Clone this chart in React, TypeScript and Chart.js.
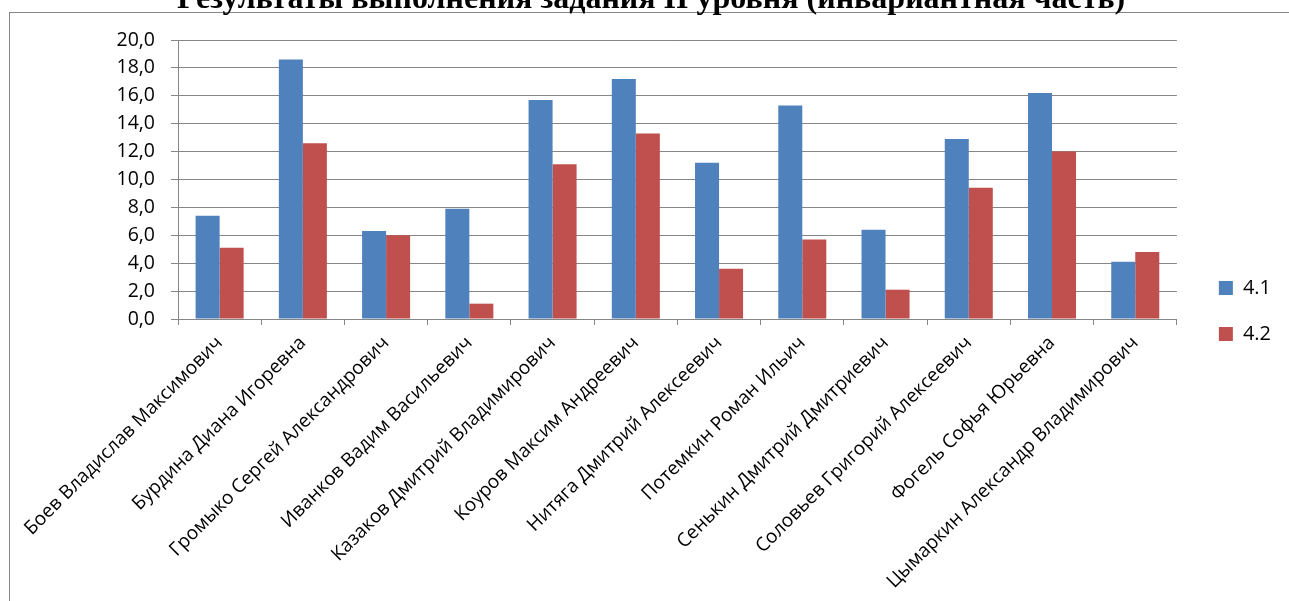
import React, { useEffect, useRef } from "react";
import { Chart, registerables } from "chart.js";

Chart.register(...registerables);

const titleText = "Результаты выполнения задания II уровня (инвариантная часть)";

const categories = [
  "Боев Владислав Максимович",
  "Бурдина Диана Игоревна",
  "Громыко Сергей Александрович",
  "Иванков Вадим Васильевич",
  "Казаков Дмитрий Владимирович",
  "Коуров Максим Андреевич",
  "Нитяга Дмитрий Алексеевич",
  "Потемкин Роман Ильич",
  "Сенькин Дмитрий Дмитриевич",
  "Соловьев Григорий Алексеевич",
  "Фогель Софья Юрьевна",
  "Цымаркин Александр Владимирович",
];

const seriesNames = ["4.1", "4.2"];
const series41 = [7.4, 18.6, 6.3, 7.9, 15.7, 17.2, 11.2, 15.3, 6.4, 12.9, 16.2, 4.1];
const series42 = [5.1, 12.6, 6.0, 1.1, 11.1, 13.3, 3.6, 5.7, 2.1, 9.4, 12.0, 4.8];

const yMin = 0;
const yMax = 20;
const yStep = 2;

const GRID = "#868686";
const FONT = "'Open Sans', sans-serif";

export default function App() {
  const ref = useRef<HTMLCanvasElement | null>(null);

  useEffect(() => {
    if (!ref.current) return;
    const chart = new Chart(ref.current, {
      type: "bar",
      data: {
        labels: categories,
        datasets: [
          {
            label: seriesNames[0],
            data: series41,
            backgroundColor: "#4F81BD",
            categoryPercentage: 0.577,
            barPercentage: 1,
          },
          {
            label: seriesNames[1],
            data: series42,
            backgroundColor: "#C0504D",
            categoryPercentage: 0.577,
            barPercentage: 1,
          },
        ],
      },
      options: {
        animation: false,
        responsive: true,
        maintainAspectRatio: false,
        layout: { padding: { left: 0, right: 0, top: 0, bottom: 0 } },
        plugins: {
          title: {
            display: true,
            text: titleText,
            color: "#000",
            font: { family: "'Liberation Serif', serif", size: 32, weight: "bold" },
            padding: { top: 11, bottom: 20.6 },
          },
          legend: {
            display: true,
            position: "right",
            labels: {
              color: "#000",
              font: { family: FONT, size: 20 },
              boxWidth: 14,
              boxHeight: 14,
              padding: 26,
            },
          },
          tooltip: { enabled: false },
        },
        scales: {
          x: {
            offset: true,
            grid: {
              display: true,
              drawOnChartArea: false,
              drawTicks: true,
              tickLength: 6,
              color: GRID,
              offset: true,
            },
            border: { display: true, color: GRID },
            ticks: {
              color: "#000",
              font: { family: FONT, size: 19 },
              minRotation: 45,
              maxRotation: 45,
              autoSkip: false,
              padding: 7,
            },
            afterFit: (s: any) => {
              s.height = 333;
            },
          },
          y: {
            min: yMin,
            max: yMax,
            ticks: {
              stepSize: yStep,
              color: "#000",
              font: { family: FONT, size: 19.5 },
              padding: 16,
              callback: (v: any) => Number(v).toFixed(1).replace(".", ","),
            },
            grid: { color: GRID, tickLength: 7, drawTicks: true },
            border: { display: true, color: GRID },
            afterFit: (s: any) => {
              s.width = 178;
            },
          },
          y2: {
            type: "linear",
            position: "right",
            display: true,
            weight: 0,
            grid: { display: false, drawOnChartArea: false },
            border: { display: false },
            ticks: { display: false },
            afterFit: (s: any) => {
              s.width = 16;
            },
          },
          y3: {
            type: "linear",
            position: "right",
            display: true,
            weight: 2000,
            grid: { display: false, drawOnChartArea: false },
            border: { display: false },
            ticks: { display: false },
            afterFit: (s: any) => {
              s.width = 21;
            },
          },
        },
      } as any,
    });
    return () => chart.destroy();
  }, []);

  return (
    <div
      style={{
        position: "absolute",
        left: 0,
        top: 0,
        width: 1289,
        height: 601,
        overflow: "hidden",
        background: "#fff",
      }}
    >
      <div
        style={{
          position: "absolute",
          left: 9,
          top: 12,
          width: 1300,
          height: 700,
          border: `1px solid ${GRID}`,
        }}
      />
      <div style={{ position: "absolute", left: 0, top: -30, width: 1302, height: 682 }}>
        <canvas ref={ref} />
      </div>
    </div>
  );
}
